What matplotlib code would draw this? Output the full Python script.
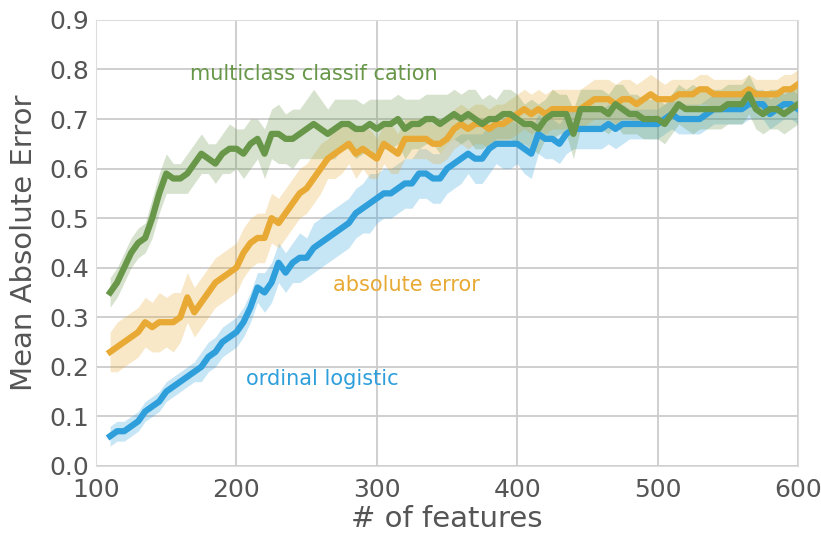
import numpy as np
import matplotlib
matplotlib.use("Agg")
import matplotlib.pyplot as plt

# number of features, every 5 from 110 to 600
features = np.arange(110, 601, 5)

# multiclass classification
multiclass = [0.35, 0.37, 0.40, 0.43, 0.45, 0.46, 0.50, 0.55, 0.59, 0.58,
              0.58, 0.59, 0.61, 0.63, 0.62, 0.61, 0.63, 0.64, 0.64, 0.63,
              0.65, 0.66, 0.63, 0.67, 0.67, 0.66, 0.66, 0.67, 0.68, 0.69,
              0.68, 0.67, 0.68, 0.69, 0.69, 0.68, 0.68, 0.69, 0.68, 0.69,
              0.69, 0.70, 0.68, 0.69, 0.69, 0.70, 0.70, 0.69, 0.70, 0.71,
              0.70, 0.71, 0.70, 0.69, 0.70, 0.70, 0.71, 0.71, 0.70, 0.69,
              0.69, 0.68, 0.70, 0.71, 0.71, 0.71, 0.67, 0.72, 0.72, 0.72,
              0.72, 0.71, 0.73, 0.72, 0.71, 0.71, 0.70, 0.70, 0.70, 0.69,
              0.71, 0.73, 0.72, 0.72, 0.72, 0.72, 0.72, 0.72, 0.73, 0.73,
              0.73, 0.75, 0.72, 0.71, 0.72, 0.72, 0.71, 0.72, 0.73]
multiclass_spread = [0.03, 0.03, 0.03, 0.03, 0.03, 0.03, 0.04, 0.04, 0.04, 0.03,
                     0.03, 0.04, 0.04, 0.04, 0.03, 0.04, 0.04, 0.05, 0.04, 0.05,
                     0.05, 0.04, 0.05, 0.05, 0.06, 0.05, 0.06, 0.05, 0.06, 0.07,
                     0.06, 0.05, 0.06, 0.05, 0.05, 0.06, 0.05, 0.05, 0.06, 0.05,
                     0.05, 0.05, 0.06, 0.05, 0.05, 0.05, 0.05, 0.06, 0.05, 0.05,
                     0.05, 0.05, 0.06, 0.05, 0.05, 0.04, 0.05, 0.05, 0.05, 0.04,
                     0.05, 0.05, 0.04, 0.05, 0.04, 0.04, 0.05, 0.04, 0.04, 0.04,
                     0.04, 0.04, 0.04, 0.05, 0.04, 0.04, 0.04, 0.04, 0.04, 0.04,
                     0.04, 0.04, 0.04, 0.05, 0.04, 0.04, 0.04, 0.04, 0.04, 0.04,
                     0.04, 0.04, 0.04, 0.04, 0.04, 0.04, 0.04, 0.04, 0.04]

# absolute error
abs_error = [0.23, 0.24, 0.25, 0.26, 0.27, 0.29, 0.28, 0.29, 0.29, 0.29,
             0.30, 0.34, 0.31, 0.33, 0.35, 0.37, 0.38, 0.39, 0.40, 0.43,
             0.45, 0.46, 0.46, 0.50, 0.49, 0.51, 0.53, 0.55, 0.56, 0.58,
             0.60, 0.62, 0.63, 0.64, 0.65, 0.63, 0.64, 0.63, 0.62, 0.65,
             0.64, 0.63, 0.66, 0.66, 0.66, 0.66, 0.65, 0.65, 0.66, 0.68,
             0.69, 0.68, 0.69, 0.69, 0.68, 0.69, 0.69, 0.70, 0.71, 0.72,
             0.71, 0.72, 0.71, 0.72, 0.72, 0.72, 0.72, 0.72, 0.73, 0.74,
             0.74, 0.74, 0.73, 0.74, 0.74, 0.73, 0.74, 0.75, 0.74, 0.74,
             0.74, 0.75, 0.75, 0.75, 0.76, 0.76, 0.75, 0.75, 0.75, 0.75,
             0.75, 0.76, 0.75, 0.75, 0.75, 0.75, 0.76, 0.76, 0.77]
abs_error_spread = [0.04, 0.05, 0.05, 0.05, 0.05, 0.05, 0.05, 0.06, 0.05, 0.06,
                    0.05, 0.05, 0.05, 0.05, 0.05, 0.05, 0.05, 0.05, 0.05, 0.05,
                    0.05, 0.05, 0.05, 0.05, 0.05, 0.05, 0.05, 0.05, 0.05, 0.05,
                    0.05, 0.04, 0.05, 0.05, 0.04, 0.05, 0.04, 0.05, 0.04, 0.04,
                    0.05, 0.04, 0.04, 0.04, 0.04, 0.04, 0.04, 0.04, 0.04, 0.04,
                    0.04, 0.04, 0.04, 0.04, 0.04, 0.04, 0.04, 0.04, 0.04, 0.04,
                    0.04, 0.04, 0.04, 0.04, 0.04, 0.04, 0.04, 0.04, 0.04, 0.04,
                    0.04, 0.04, 0.04, 0.04, 0.04, 0.04, 0.04, 0.04, 0.04, 0.03,
                    0.04, 0.03, 0.03, 0.03, 0.03, 0.03, 0.03, 0.03, 0.03, 0.03,
                    0.03, 0.03, 0.03, 0.03, 0.03, 0.03, 0.03, 0.03, 0.03]

# ordinal logistic
ordinal = [0.06, 0.07, 0.07, 0.08, 0.09, 0.11, 0.12, 0.13, 0.15, 0.16,
           0.17, 0.18, 0.19, 0.20, 0.22, 0.23, 0.25, 0.26, 0.27, 0.29,
           0.32, 0.36, 0.35, 0.37, 0.41, 0.39, 0.41, 0.42, 0.42, 0.44,
           0.45, 0.46, 0.47, 0.48, 0.49, 0.51, 0.52, 0.53, 0.54, 0.55,
           0.55, 0.56, 0.57, 0.57, 0.59, 0.59, 0.58, 0.58, 0.60, 0.61,
           0.62, 0.63, 0.62, 0.62, 0.64, 0.65, 0.65, 0.65, 0.65, 0.64,
           0.63, 0.67, 0.66, 0.66, 0.65, 0.67, 0.68, 0.68, 0.68, 0.68,
           0.68, 0.69, 0.68, 0.69, 0.69, 0.69, 0.69, 0.69, 0.69, 0.70,
           0.71, 0.70, 0.70, 0.70, 0.70, 0.71, 0.72, 0.72, 0.72, 0.72,
           0.72, 0.73, 0.73, 0.73, 0.71, 0.72, 0.73, 0.73, 0.72]
ordinal_spread = [0.02, 0.02, 0.02, 0.02, 0.02, 0.02, 0.02, 0.02, 0.02, 0.02,
                  0.02, 0.02, 0.02, 0.03, 0.03, 0.03, 0.03, 0.03, 0.03, 0.03,
                  0.03, 0.03, 0.04, 0.04, 0.04, 0.04, 0.04, 0.05, 0.04, 0.05,
                  0.05, 0.05, 0.05, 0.05, 0.05, 0.05, 0.05, 0.06, 0.05, 0.05,
                  0.05, 0.05, 0.05, 0.05, 0.05, 0.05, 0.05, 0.05, 0.05, 0.05,
                  0.05, 0.04, 0.05, 0.05, 0.05, 0.04, 0.05, 0.05, 0.04, 0.05,
                  0.05, 0.04, 0.04, 0.04, 0.04, 0.04, 0.04, 0.04, 0.04, 0.04,
                  0.04, 0.04, 0.04, 0.04, 0.03, 0.03, 0.03, 0.03, 0.03, 0.03,
                  0.03, 0.03, 0.03, 0.03, 0.03, 0.03, 0.03, 0.03, 0.03, 0.03,
                  0.03, 0.03, 0.03, 0.03, 0.03, 0.03, 0.03, 0.03, 0.03]

series = [
    ("ordinal logistic", ordinal, ordinal_spread, "#2f9fdc", (207, 0.175)),
    ("absolute error", abs_error, abs_error_spread, "#e8aa34", (269, 0.365)),
    ("multiclass classif cation", multiclass, multiclass_spread, "#68974a", (167, 0.79)),
]

fig = plt.figure(figsize=(8.21, 5.38), dpi=100)
ax = fig.add_axes([0.117, 0.134, 0.855, 0.829])

for name, vals, spread, color, label_pos in series:
    vals = np.array(vals)
    spread = np.array(spread)
    ax.fill_between(features, vals - spread, vals + spread, color=color,
                    alpha=0.27, linewidth=0)
    ax.plot(features, vals, color=color, linewidth=4.5)
    ax.text(label_pos[0], label_pos[1], name, color=color, fontsize=15,
            ha="left", va="center")

ax.set_xlim(100, 600)
ax.set_ylim(0, 0.9)
ax.set_xticks([100, 200, 300, 400, 500, 600])
ax.set_yticks(np.arange(0, 0.91, 0.1))
ax.yaxis.set_major_formatter(matplotlib.ticker.FormatStrFormatter("%.1f"))
ax.grid(True, color="#cccccc", linewidth=1.3)
ax.set_axisbelow(True)
for s in ax.spines.values():
    s.set_color("#dddddd")
ax.tick_params(axis="both", length=0, labelsize=18, colors="#555555")
ax.tick_params(axis="x", pad=9)
ax.tick_params(axis="y", pad=5)
ax.set_xlabel("# of features", fontsize=21, color="#555555", labelpad=2)
ax.set_ylabel("Mean Absolute Error", fontsize=21, color="#555555", labelpad=8)

fig.savefig("out.png", dpi=100)
